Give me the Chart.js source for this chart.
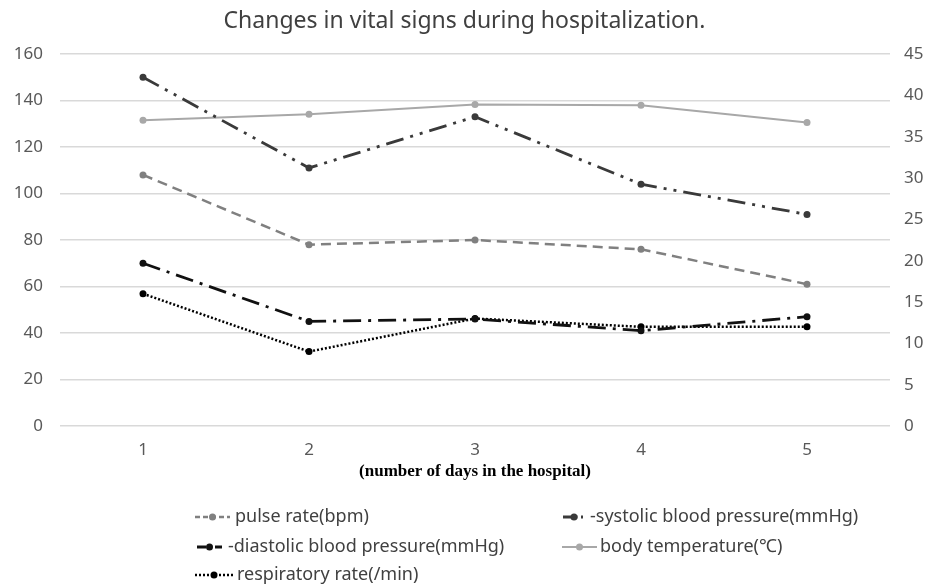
<!DOCTYPE html>
<html>
<head>
<meta charset="utf-8">
<script src="https://cdn.jsdelivr.net/npm/chart.js@4/dist/chart.umd.min.js"></script>
<style>
  html, body { margin: 0; padding: 0; background: #fff; }
  #wrap { width: 929px; height: 587px; position: relative; }
</style>
</head>
<body>
<div id="wrap"><canvas id="c" width="929" height="587"></canvas></div>
<script>
const days = ['1', '2', '3', '4', '5'];
const pulseRate = [108, 78, 80, 76, 61];
const systolicBP = [150, 111, 133, 104, 91];
const diastolicBP = [70, 45, 46, 41, 47];
const bodyTemperature = [37.0, 37.7, 38.9, 38.8, 36.7];
const respiratoryRate = [16, 9, 13, 12, 12];
const leftTicks = { min: 0, max: 160, step: 20 };
const rightTicks = { min: 0, max: 45, step: 5 };

const labels = {
  pulse: 'pulse rate(bpm)',
  sys: '-systolic blood pressure(mmHg)',
  dia: '-diastolic blood pressure(mmHg)',
  temp: 'body temperature(\u2103)',
  resp: 'respiratory rate(/min)'
};

function ds(label, data, color, dash, axis, width) {
  return {
    label, data, yAxisID: axis,
    borderColor: color, backgroundColor: color,
    borderDash: dash, borderWidth: width,
    pointRadius: 3.5, pointBackgroundColor: color, pointBorderColor: color,
    pointBorderWidth: 0, tension: 0, fill: false
  };
}

const datasets = [
  ds(labels.pulse, pulseRate, '#808080', [10, 6], 'y', 2.5),
  ds(labels.sys, systolicBP, '#3a3a3a', [18, 7, 3, 7, 3, 7], 'y', 2.8),
  ds(labels.dia, diastolicBP, '#111111', [18, 7, 3, 7], 'y', 2.8),
  ds(labels.temp, bodyTemperature, '#a8a8a8', [], 'y1', 2),
  ds(labels.resp, respiratoryRate, '#000000', [2, 2], 'y1', 2.5)
];

// legend placement: [sampleX, rowY, sampleLength, textGap]
const legendSlots = [
  [195, 517, 35, 5],
  [563, 517, 22, 5],
  [197, 547, 25, 6],
  [562, 547, 35, 3],
  [195, 575, 38, 4]
];

const customLegend = {
  id: 'customLegend',
  afterDraw(chart) {
    const ctx = chart.ctx;
    chart.data.datasets.forEach((d, i) => {
      const [x, y, len, gap] = legendSlots[i];
      ctx.save();
      ctx.strokeStyle = d.borderColor;
      ctx.lineWidth = d.borderWidth;
      ctx.setLineDash(d.borderDash.length ? d.borderDash.map(v => Math.max(2, v * 0.5)) : []);
      ctx.beginPath();
      ctx.moveTo(x, y);
      ctx.lineTo(x + len, y);
      ctx.stroke();
      ctx.setLineDash([]);
      ctx.fillStyle = d.borderColor;
      ctx.beginPath();
      ctx.arc(x + len / 2, y, 3.5, 0, Math.PI * 2);
      ctx.fill();
      ctx.fillStyle = '#404040';
      ctx.font = '18px "Noto Sans", sans-serif';
      ctx.textBaseline = 'middle';
      ctx.textAlign = 'left';
      ctx.fillText(d.label, x + len + gap, y);
      ctx.restore();
    });
  }
};

const tickFont = { family: '"Noto Sans", sans-serif', size: 17 };

new Chart(document.getElementById('c'), {
  type: 'line',
  data: { labels: days, datasets },
  plugins: [customLegend],
  options: {
    responsive: false,
    animation: false,
    layout: { padding: { left: 0, right: 0, top: 0, bottom: 105 } },
    plugins: {
      legend: { display: false },
      tooltip: { enabled: false },
      title: {
        display: true,
        text: 'Changes in vital signs during hospitalization.',
        color: '#404040',
        font: { family: '"Noto Sans", sans-serif', size: 23, weight: 'normal' },
        padding: { top: 8, bottom: 18.4 }
      }
    },
    scales: {
      x: {
        offset: true,
        grid: { display: false },
        border: { display: false },
        ticks: { color: '#595959', font: tickFont, padding: 6 },
        title: {
          display: true,
          text: '(number of days in the hospital)',
          color: '#000',
          font: { family: '"Liberation Serif", serif', size: 17, weight: 'bold' },
          padding: { top: 0, bottom: 0 }
        },
        afterFit(scale) { scale.height = 56; }
      },
      y: {
        position: 'left',
        min: leftTicks.min, max: leftTicks.max,
        ticks: { stepSize: leftTicks.step, color: '#595959', font: tickFont, padding: 17 },
        grid: { color: '#d9d9d9', lineWidth: 1.5, drawTicks: false },
        border: { display: false },
        afterFit(scale) { scale.width = 60; }
      },
      y1: {
        position: 'right',
        min: rightTicks.min, max: rightTicks.max,
        ticks: { stepSize: rightTicks.step, color: '#595959', font: tickFont, padding: 14 },
        grid: { display: false, drawTicks: false },
        border: { display: false },
        afterFit(scale) { scale.width = 39; }
      }
    }
  }
});
</script>
</body>
</html>
